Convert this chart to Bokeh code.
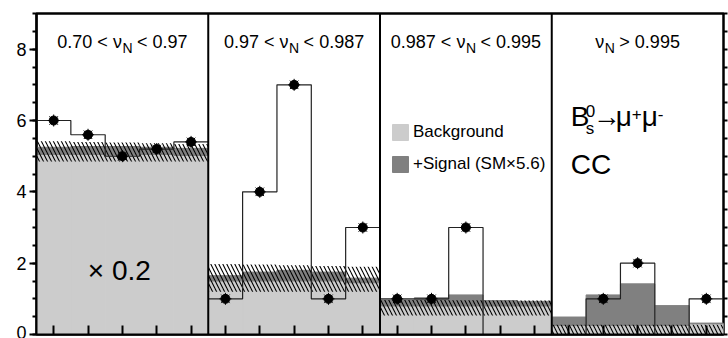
import numpy as np
from bokeh.plotting import figure
from bokeh.models import (Range1d, LinearAxis, SingleIntervalTicker, FixedTicker,
                          Span, Label, Legend, LegendItem)
from bokeh.embed import file_html
from bokeh.resources import INLINE

# ---------------- data ----------------
n_panels = 4
n_bins = 5
title_left = ["0.70 < ν", "0.97 < ν", "0.987 < ν", "ν"]
title_sub = ["N", "N", "N", "N"]
title_right = ["< 0.97", "< 0.987", "< 0.995", "> 0.995"]

data_counts = [6.0, 5.6, 5.0, 5.2, 5.4,
               1, 4, 7, 1, 3,
               1, 1, 3, 0, 0,
               0, 1, 2, 0, 1]
background = [5.05, 5.05, 5.05, 5.05, 5.02,
              1.50, 1.50, 1.50, 1.50, 1.45,
              0.80, 0.80, 0.80, 0.80, 0.80,
              0.25, 0.25, 0.25, 0.25, 0.30]
signal = [0.20, 0.22, 0.22, 0.20, 0.20,
          0.15, 0.25, 0.30, 0.25, 0.13,
          0.17, 0.23, 0.31, 0.15, 0.13,
          0.24, 0.86, 1.17, 0.56, 0.02]
band_low = [4.85, 4.85, 4.85, 4.85, 4.85,
            1.20, 1.20, 1.20, 1.20, 1.20,
            0.53, 0.53, 0.53, 0.53, 0.53,
            0.00, 0.00, 0.00, 0.00, 0.00]
band_high = [5.42, 5.40, 5.38, 5.36, 5.34,
             1.98, 1.96, 1.94, 1.92, 1.90,
             0.97, 0.97, 0.96, 0.95, 0.95,
             0.27, 0.27, 0.27, 0.27, 0.27]
y_ticks = [0, 2, 4, 6, 8]

FONT = "Liberation Sans"
C_BKG = "#cccccc"
C_SIG = "#808080"

nb = n_panels * n_bins
left = np.arange(nb, dtype=float)
right = left + 1
centers = left + 0.5
bkg = np.array(background)
sig_top = bkg + np.array(signal)

p = figure(width=728, height=338, output_backend="svg", toolbar_location=None,
           x_range=Range1d(0, nb), y_range=Range1d(0, 9),
           x_axis_location=None, y_axis_location=None,
           min_border_left=36, min_border_right=5, min_border_top=13, min_border_bottom=4)
p.grid.visible = False
p.outline_line_color = "black"
p.outline_line_width = 2.5
p.background_fill_color = "white"

# ---- axes ----
yax = LinearAxis(ticker=SingleIntervalTicker(interval=2, num_minor_ticks=4))
yax.major_label_text_font = FONT
yax.major_label_text_font_size = "18px"
yax.major_label_text_color = "black"
yax.major_tick_out = 7
yax.major_tick_in = 0
yax.minor_tick_out = 4
yax.minor_tick_in = 0
yax.major_tick_line_width = 2
yax.minor_tick_line_width = 2
yax.axis_line_width = 2
yax.major_label_standoff = 3
p.add_layout(yax, "left")

rax = LinearAxis(ticker=SingleIntervalTicker(interval=0.5, num_minor_ticks=0))
rax.major_label_text_font_size = "1px"
rax.major_label_text_color = None
rax.major_label_standoff = 0
rax.major_tick_out = 4
rax.major_tick_in = 0
rax.major_tick_line_width = 2
rax.minor_tick_line_color = None
rax.axis_line_color = None
p.add_layout(rax, "right")

bax = LinearAxis(ticker=FixedTicker(ticks=list(centers)))
bax.major_label_text_font_size = "1px"
bax.major_label_text_color = None
bax.major_label_standoff = 0
bax.major_tick_out = 0
bax.major_tick_in = 9
bax.major_tick_line_width = 2
bax.minor_tick_line_color = None
bax.axis_line_width = 2
p.add_layout(bax, "below")

# ---- stacked histograms ----
r_bkg = p.quad(left=left, right=right, bottom=0, top=bkg,
               fill_color=C_BKG, line_color=C_BKG, line_width=1)
r_sig = p.quad(left=left, right=right, bottom=bkg, top=sig_top,
               fill_color=C_SIG, line_color=C_SIG, line_width=1)
p.quad(left=left, right=right, bottom=band_low, top=band_high,
       fill_alpha=0, line_color=None, hatch_pattern="\\", hatch_color="black",
       hatch_scale=8, hatch_weight=1.1, hatch_alpha=1.0)

# ---- data outline (steps) ----
for k in range(n_panels):
    sl = slice(k * n_bins, (k + 1) * n_bins)
    xs = list(left[sl]) + [right[sl][-1]]
    ys = list(data_counts[sl]) + [data_counts[sl][-1]]
    p.step(xs, ys, mode="after", line_color="#222222", line_width=1.2)

# ---- data points ----
dc = np.array(data_counts)
mask = dc > 0
p.scatter(centers[mask], dc[mask], marker="asterisk", size=12, line_color="black", line_width=1)
p.scatter(centers[mask], dc[mask], marker="circle", size=9, fill_color="black", line_color="black")

# ---- panel dividers ----
for k in range(1, n_panels):
    p.add_layout(Span(location=k * n_bins, dimension="height", line_color="black", line_width=2))

# ---- panel titles ----
W = {"0": .556, "1": .556, "2": .556, "3": .556, "4": .556, "5": .556, "6": .556,
     "7": .556, "8": .556, "9": .556, ".": .278, " ": .278, "<": .584, ">": .584, "ν": .5}
def tw(s, fs):
    return sum(W.get(c, .556) for c in s) * fs

TFS = 18
SFS = 14
sub_w = 10.5
gap = 4.5
title_y = 7.91
for k in range(n_panels):
    cx = k * n_bins + n_bins / 2
    wl = tw(title_left[k], TFS)
    wr = tw(title_right[k], TFS)
    off = (wl - wr - sub_w - gap) / 2
    p.add_layout(Label(x=cx, y=title_y, x_offset=off, text=title_left[k], text_align="right",
                       text_font=FONT, text_font_size=f"{TFS}px", text_color="black"))
    p.add_layout(Label(x=cx, y=title_y, x_offset=off + 0.5, y_offset=-4, text=title_sub[k],
                       text_align="left", text_font=FONT, text_font_size=f"{SFS}px", text_color="black"))
    p.add_layout(Label(x=cx, y=title_y, x_offset=off + sub_w + gap, text=title_right[k],
                       text_align="left", text_font=FONT, text_font_size=f"{TFS}px", text_color="black"))

# ---- scale factor text ----
p.add_layout(Label(x=n_bins / 2, y=1.79, x_offset=-3, text="× 0.2", text_align="center",
                   text_baseline="middle", text_font=FONT, text_font_size="28px", text_color="black"))

# ---- decay formula ----
x4 = (n_panels - 1) * n_bins
fy = 5.69
big = "28px"
small = "17px"
pieces = [("B", 19, 0, big), ("0", 34, 15, small), ("s", 34, -6, small),
          ("→", 41, 0, big), ("μ", 64, 0, big), ("+", 80, 12, small),
          ("μ", 90, 0, big), ("-", 106, 12, small)]
for t, xo, yo, fs in pieces:
    p.add_layout(Label(x=x4, y=fy, x_offset=xo, y_offset=yo, text=t, text_align="left",
                       text_font=FONT, text_font_size=fs, text_color="black"))
p.add_layout(Label(x=x4, y=4.32, x_offset=19, text="CC", text_align="left",
                   text_font=FONT, text_font_size=big, text_color="black"))

# ---- legend ----
legend = Legend(items=[LegendItem(label="Background", renderers=[r_bkg]),
                       LegendItem(label="+Signal (SM×5.6)", renderers=[r_sig])],
                location=(354, 160), orientation="vertical")
legend.label_text_font = FONT
legend.label_text_font_size = "17px"
legend.label_text_color = "black"
legend.glyph_width = 20
legend.glyph_height = 20
legend.label_height = 20
legend.label_standoff = 3
legend.spacing = 12
legend.padding = 0
legend.margin = 0
legend.border_line_alpha = 0
legend.background_fill_alpha = 0
p.add_layout(legend)

open("out.html", "w").write(file_html(p, INLINE))
